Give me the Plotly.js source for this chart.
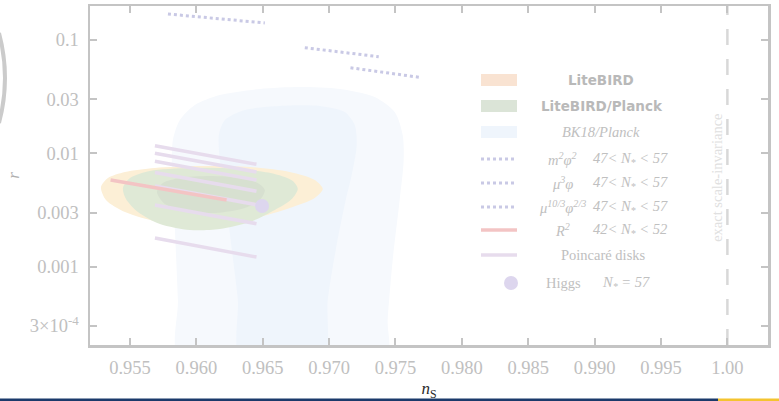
<!DOCTYPE html>
<html>
<head>
<meta charset="utf-8">
<script src="https://cdn.plot.ly/plotly-3.0.1.min.js"></script>
<style>
html,body{margin:0;padding:0;background:#ffffff;}
#chart{width:779px;height:401px;}
</style>
</head>
<body>
<div id="chart"></div>
<script>
// ---------------- DATA ----------------
const xTickVals = [0.955, 0.960, 0.965, 0.970, 0.975, 0.980, 0.985, 0.990, 0.995, 1.00];
const xTickText = ["0.955", "0.960", "0.965", "0.970", "0.975", "0.980", "0.985", "0.990", "0.995", "1.00"];
const yTickVals = [3e-4, 0.001, 0.003, 0.01, 0.03, 0.1];
const yTickText = ["3×10<sup>-4</sup>", "0.001", "0.003", "0.01", "0.03", "0.1"];

// BK18/Planck contours (2σ outer, 1σ inner)
const bk18OuterNs = [0.958762, 0.958612, 0.958386, 0.958160, 0.958236, 0.958762, 0.959891, 0.961772, 0.964782, 0.967791, 0.970801, 0.973435, 0.974940, 0.975542, 0.975617, 0.975316, 0.974789, 0.974413, 0.974262];
const bk18OuterR  = [1.5e-4, 5.07e-4, 0.002104, 0.007122, 0.013105, 0.019670, 0.026687, 0.032702, 0.036942, 0.038481, 0.036942, 0.031396, 0.023148, 0.014504, 0.008727, 0.003871, 0.001143, 3.379e-4, 1.5e-4];
const bk18InnerNs = [0.963352, 0.963126, 0.962675, 0.962223, 0.961772, 0.961697, 0.962148, 0.963653, 0.966287, 0.969296, 0.971178, 0.971930, 0.972081, 0.971704, 0.971253, 0.970500, 0.969898, 0.969522];
const bk18InnerR  = [1.5e-4, 5.07e-4, 0.001401, 0.003871, 0.008727, 0.014504, 0.019670, 0.024112, 0.026154, 0.026154, 0.023148, 0.017775, 0.011837, 0.006433, 0.003871, 0.001401, 5.07e-4, 1.5e-4];

// LiteBIRD forecast contour
const liteBirdNs = [0.952818, 0.953345, 0.954624, 0.956881, 0.960267, 0.964029, 0.967039, 0.968920, 0.969522, 0.968920, 0.967039, 0.964405, 0.961020, 0.957257, 0.954624, 0.953194];
const liteBirdR  = [0.005041, 0.006053, 0.006839, 0.007421, 0.007723, 0.007568, 0.006839, 0.005811, 0.004840, 0.004031, 0.003291, 0.002685, 0.002377, 0.002475, 0.003032, 0.003871];

// LiteBIRD/Planck forecast contours (outer, inner)
const lbPlanckOuterNs = [0.954473, 0.955000, 0.956505, 0.959515, 0.963277, 0.965911, 0.967265, 0.967641, 0.967190, 0.965911, 0.964029, 0.961772, 0.959515, 0.957257, 0.955602, 0.954699];
const lbPlanckOuterR  = [0.004939, 0.006053, 0.006980, 0.007421, 0.007270, 0.006568, 0.005694, 0.004840, 0.003951, 0.003159, 0.002475, 0.002147, 0.002104, 0.002377, 0.003032, 0.003951];
const lbPlanckInnerNs = [0.957032, 0.957483, 0.958762, 0.961020, 0.963277, 0.964631, 0.965158, 0.964782, 0.963653, 0.961396, 0.959138, 0.957634];
const lbPlanckInnerR  = [0.004554, 0.005468, 0.006053, 0.006304, 0.006053, 0.005468, 0.004743, 0.003871, 0.003291, 0.002972, 0.003095, 0.003569];

// Model predictions
const m2phi2Ns = [0.95786, 0.96516];
const m2phi2R  = [0.1696, 0.1413];
const mu3phiNs = [0.96817, 0.97374];
const mu3phiR  = [0.0855, 0.0712];
const mu103Ns  = [0.97161, 0.97677];
const mu103R   = [0.0569, 0.0469];
const r2Ns     = [0.95354, 0.96228];
const r2R      = [0.005811, 0.003873];
const poincareNs = [0.95688, 0.96453];
const poincareR  = [
  [0.011669, 0.007995],
  [0.010000, 0.006839],
  [0.008500, 0.005811],
  [0.006769, 0.004628],
  [0.005145, 0.003518],
  [0.003497, 0.002391],
  [0.001788, 0.001215]
];
const higgsNs = [0.96495];
const higgsR  = [0.00343];
const scaleInvariantNs = 1.0;

const legendNames = ["LiteBIRD", "LiteBIRD/Planck", "BK18/Planck",
  "m<sup>2</sup>φ<sup>2</sup>", "μ<sup>3</sup>φ", "μ<sup>10/3</sup>φ<sup>2/3</sup>",
  "R<sup>2</sup>", "Poincaré disks", "Higgs"];
const legendRanges = ["", "", "", "47< N<sub>*</sub> < 57", "47< N<sub>*</sub> < 57", "47< N<sub>*</sub> < 57",
  "42< N<sub>*</sub> < 52", "", "N<sub>*</sub> = 57"];

// ---------------- STYLE ----------------
const C = {
  bkOuter: '#f6f9fd', bkInner: '#eff5fc',
  lite: '#fcefd6', liteSw: '#f9e3d2',
  greenOuter: '#dfe9d6', greenInner: '#d7e0d0', greenSw: '#dbe4d7',
  dots: '#c9c9e5', pink: '#f3c4c4', lilac: '#e7dced', higgs: '#ddd6ee',
  frame: '#c4c4c4', tick: '#c0c0c0', legText: '#c0c0c0'
};
const SERIF = 'Liberation Serif, Times New Roman, serif';

function poly(xs, ys, color) {
  return {type: 'scatter', mode: 'lines', x: xs.concat([xs[0]]), y: ys.concat([ys[0]]),
    fill: 'toself', fillcolor: color, line: {width: 0, color: color, shape: 'spline', smoothing: 0.8},
    hoverinfo: 'skip', showlegend: false};
}
function seg(xs, ys, color, width, dash) {
  return {type: 'scatter', mode: 'lines', x: xs, y: ys,
    line: {color: color, width: width, dash: dash || 'solid'}, hoverinfo: 'skip', showlegend: false};
}

const traces = [
  poly(bk18OuterNs, bk18OuterR, C.bkOuter),
  poly(bk18InnerNs, bk18InnerR, C.bkInner),
  poly(liteBirdNs, liteBirdR, C.lite),
  poly(lbPlanckOuterNs, lbPlanckOuterR, C.greenOuter),
  poly(lbPlanckInnerNs, lbPlanckInnerR, C.greenInner)
];
poincareR.forEach(rr => traces.push(seg(poincareNs, rr, C.lilac, 3.5)));
traces.push(seg(r2Ns, r2R, C.pink, 3.5));
traces.push(seg(m2phi2Ns, m2phi2R, C.dots, 3, 'dot'));
traces.push(seg(mu3phiNs, mu3phiR, C.dots, 3, 'dot'));
traces.push(seg(mu103Ns, mu103R, C.dots, 3, 'dot'));
traces.push({type: 'scatter', mode: 'markers', x: higgsNs, y: higgsR,
  marker: {size: 14, color: C.higgs}, hoverinfo: 'skip', showlegend: false});

// pixel -> paper helpers for the hand-built legend (plot area 90..768 x 6..345)
const PL = 90, PR = 768, PT = 6, PB = 345;
const px = x => (x - PL) / (PR - PL);
const py = y => (PB - y) / (PB - PT);

const arcPath = 'M' + px(-1) + ',' + py(33) + ' Q' + px(11) + ',' + py(78) + ' ' + px(-1) + ',' + py(123);

const shapes = [
  {type: 'line', xref: 'x', yref: 'paper', x0: scaleInvariantNs, x1: scaleInvariantNs, y0: 0, y1: 1,
   line: {color: '#d8d8d8', width: 2.5, dash: '16px,14px'}, layer: 'below'},
  // slide decorations
  {type: 'path', xref: 'paper', yref: 'paper', path: arcPath, line: {color: '#cbcbcb', width: 4}},
  {type: 'rect', xref: 'paper', yref: 'paper', x0: px(-2), x1: px(718), y0: py(398.5), y1: py(403),
   fillcolor: '#1b3a6b', line: {width: 0}},
  {type: 'rect', xref: 'paper', yref: 'paper', x0: px(718), x1: px(782), y0: py(398.5), y1: py(403),
   fillcolor: '#f4c430', line: {width: 0}}
];

const rowY = [80, 106, 132, 159, 183, 207, 230, 255, 283];
const swL = 481, swR = 517;
const swFill = [C.liteSw, C.greenSw, C.bkInner];
for (let i = 0; i < 3; i++) {
  shapes.push({type: 'rect', xref: 'paper', yref: 'paper', x0: px(swL), x1: px(swR),
    y0: py(rowY[i] + 6), y1: py(rowY[i] - 6), fillcolor: swFill[i], line: {width: 0}});
}
for (let i = 3; i < 6; i++) {
  shapes.push({type: 'line', xref: 'paper', yref: 'paper', x0: px(swL), x1: px(swR),
    y0: py(rowY[i]), y1: py(rowY[i]), line: {color: C.dots, width: 3, dash: 'dot'}});
}
shapes.push({type: 'line', xref: 'paper', yref: 'paper', x0: px(swL), x1: px(swR),
  y0: py(rowY[6]), y1: py(rowY[6]), line: {color: C.pink, width: 3.5}});
shapes.push({type: 'line', xref: 'paper', yref: 'paper', x0: px(swL), x1: px(swR),
  y0: py(rowY[7]), y1: py(rowY[7]), line: {color: C.lilac, width: 3.5}});
shapes.push({type: 'circle', xref: 'paper', yref: 'paper', x0: px(504), x1: px(518),
  y0: py(rowY[8] + 7), y1: py(rowY[8] - 7), fillcolor: C.higgs, line: {width: 0}});

const annotations = [];
function ann(text, x, y, font, extra) {
  annotations.push(Object.assign({text: text, xref: 'paper', yref: 'paper', x: px(x), y: py(y),
    xanchor: 'center', yanchor: 'middle', showarrow: false, font: font}, extra || {}));
}
const boldFont = {family: 'DejaVu Sans', size: 13.5, color: '#b9b9b9'};
const serifFont = {family: SERIF, size: 14.5, color: C.legText};
ann('<b>' + legendNames[0] + '</b>', 601, rowY[0], boldFont);
ann('<b>' + legendNames[1] + '</b>', 602, rowY[1], boldFont);
ann('<i>' + legendNames[2] + '</i>', 601, rowY[2], serifFont);
for (let i = 3; i < 7; i++) {
  ann('<i>' + legendNames[i] + '</i>', 562, rowY[i], serifFont);
  ann('<i>' + legendRanges[i] + '</i>', 630, rowY[i], serifFont);
}
ann(legendNames[7], 603, rowY[7], serifFont);
ann(legendNames[8], 563, rowY[8], serifFont);
ann('<i>' + legendRanges[8] + '</i>', 626, rowY[8], serifFont);

annotations.push({text: 'exact scale-invariance', xref: 'x', yref: 'paper', x: 0.99917, y: py(177.5),
  textangle: -90, showarrow: false, xanchor: 'center', yanchor: 'middle',
  font: {family: SERIF, size: 14.5, color: '#e0e0e0'}});

const axisCommon = {
  showline: true, mirror: 'allticks', linecolor: C.frame, linewidth: 2.5,
  ticks: 'inside', ticklen: 7, tickwidth: 2, tickcolor: C.frame,
  showgrid: false, zeroline: false,
  tickfont: {family: SERIF, size: 18.5, color: C.tick}
};

const layout = {
  width: 779, height: 401,
  margin: {l: PL, r: 779 - PR, t: PT, b: 401 - PB},
  paper_bgcolor: '#ffffff', plot_bgcolor: '#ffffff',
  showlegend: false,
  xaxis: Object.assign({}, axisCommon, {
    range: [0.95199, 1.00306], tickmode: 'array', tickvals: xTickVals, ticktext: xTickText,
    ticklabelstandoff: 4,
    title: {text: '<i>n</i><sub>S</sub>', font: {family: SERIF, size: 17, color: '#2a2a2a'}, standoff: 7}
  }),
  yaxis: Object.assign({}, axisCommon, {
    type: 'log', range: [-3.692, -0.700], tickmode: 'array', tickvals: yTickVals, ticktext: yTickText,
    ticklabelstandoff: 5,
    title: {text: '<i>r</i>', font: {family: SERIF, size: 17, color: '#b0b0b0'}, standoff: 6}
  }),
  shapes: shapes,
  annotations: annotations
};

Plotly.newPlot('chart', traces, layout, {displayModeBar: false, staticPlot: true});
</script>
</body>
</html>
